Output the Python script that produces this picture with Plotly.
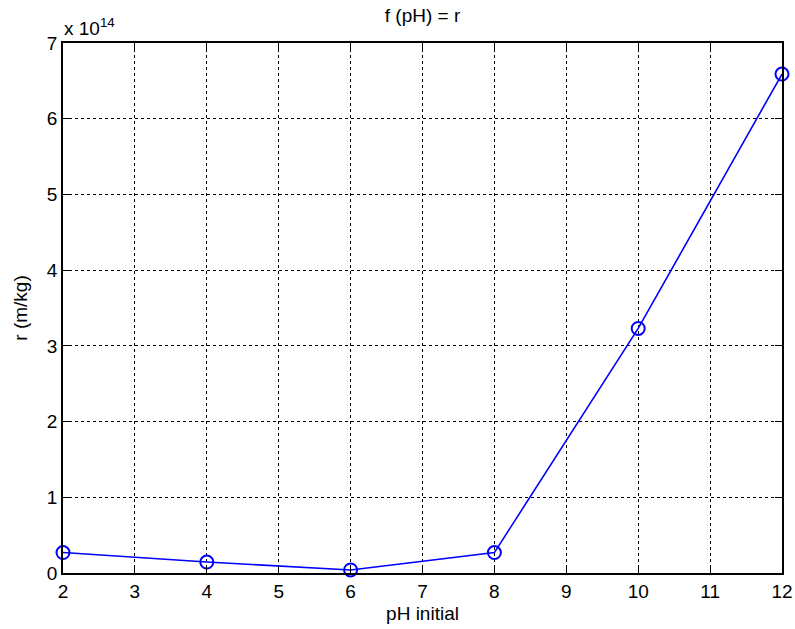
import plotly.graph_objects as go

# pH initial vs specific resistance r (values in units of 1e14 m/kg)
ph_initial = [2, 4, 6, 8, 10, 12]
r_e14 = [0.27, 0.145, 0.04, 0.27, 3.23, 6.59]

x_ticks = list(range(2, 13))
y_ticks = list(range(0, 8))

FONT = "Liberation Sans, Arial, Helvetica, sans-serif"
TXT = dict(family=FONT, size=19, color="black")

fig = go.Figure()
fig.add_trace(go.Scatter(
    x=ph_initial, y=r_e14,
    mode="lines+markers",
    line=dict(color="#0000ff", width=1.6),
    marker=dict(symbol="circle-open", size=13, color="#0000ff", line=dict(width=2)),
    showlegend=False,
    cliponaxis=False,
))

axis_common = dict(
    showline=True, linecolor="black", linewidth=1.8, mirror="ticks",
    ticks="inside", ticklen=7, tickcolor="black", tickwidth=1.2,
    showgrid=True, gridcolor="black", gridwidth=1, griddash="dot",
    zeroline=False, automargin=False,
    tickfont=TXT,
)

fig.update_layout(
    width=795, height=629,
    paper_bgcolor="white", plot_bgcolor="white",
    margin=dict(l=63, r=13, t=43, b=56),
    title=dict(text="f (pH) = r", x=0.5, xanchor="center", y=1 - 15 / 629, yanchor="middle",
               xref="paper", font=TXT),
    xaxis=dict(range=[2, 12], tickvals=x_ticks,
               title=dict(text="pH initial", font=TXT, standoff=6),
               **axis_common),
    yaxis=dict(range=[0, 7], tickvals=y_ticks,
               title=dict(text="r (m/kg)", font=TXT, standoff=14),
               **axis_common),
    annotations=[dict(
        text="x 10<sup>14</sup>", xref="paper", yref="paper", x=0.0, y=1.0,
        xanchor="left", yanchor="bottom", showarrow=False, xshift=-1, yshift=2,
        font=dict(family=FONT, size=19, color="black"),
    )],
)

fig.write_html("out.html")
